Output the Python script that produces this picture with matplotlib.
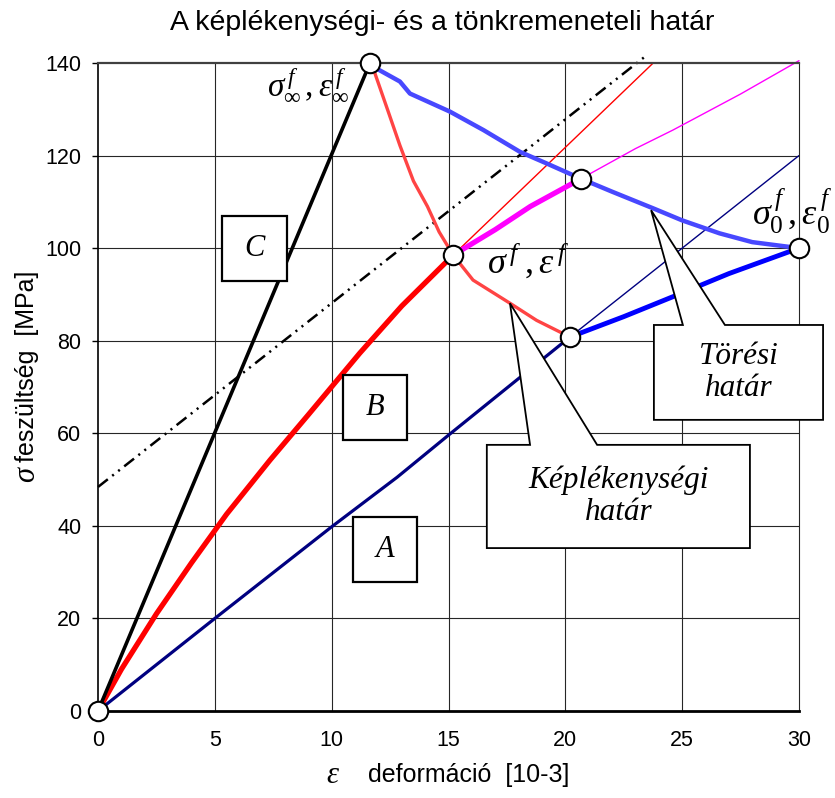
import numpy as np
import matplotlib
matplotlib.use("Agg")
import matplotlib.pyplot as plt
from matplotlib.patches import Polygon, Rectangle

plt.rcParams['font.family'] = ['Liberation Sans', 'DejaVu Sans']
plt.rcParams['mathtext.fontset'] = 'custom'
plt.rcParams['mathtext.rm'] = 'Liberation Serif'
plt.rcParams['mathtext.it'] = 'Liberation Serif:italic'
plt.rcParams['lines.scale_dashes'] = False

# C: rigid line
c_x = [0, 11.64]
c_y = [0, 140]
# B: main curve up to the yield point
b_x = [0, 1, 2.5, 4, 5.5, 7.36, 9, 11.2, 13, 15.2]
b_y = [0, 9, 21, 32, 42.5, 54.2, 64, 77.3, 87.5, 98.5]
# A: soft line
a_x = [0, 5, 10, 12.8, 15, 20.2]
a_y = [0, 20, 39.8, 50.5, 59.6, 80.8]
a_ext_x = [20.2, 30]
a_ext_y = [80.8, 120]
# A beyond yield
a_post_x = [20.2, 22.5, 24.6, 27, 30]
a_post_y = [80.8, 85.2, 89.5, 94.5, 100]
# B beyond yield
b_post_x = [15.2, 17, 18.5, 20.67]
b_post_y = [98.5, 104, 109, 115]
b_post_ext_x = [20.67, 23, 24.6, 27.5, 30]
b_post_ext_y = [115, 121.5, 125.5, 133.3, 140.5]
b_ext_x = [15.2, 23.74]
b_ext_y = [98.5, 139.9]
# dash-dot reference line
dd_x = [0, 23.54]
dd_y = [48.4, 141.9]
# fracture limit
tor_x = [11.64, 11.92, 12.92, 13.35, 15.06, 16.5, 18.06, 19.2, 20.67, 22, 23.76, 25, 26.6, 28, 30]
tor_y = [140, 138.8, 136, 133.4, 129.5, 125.5, 120.8, 118.3, 115, 112.2, 108.6, 106, 103.2, 101.3, 100]
# yield limit
kep_x = [11.64, 11.78, 12.4, 12.92, 13.5, 14.1, 14.6, 15.2, 16.05, 17.63, 18.77, 20.2]
kep_y = [140, 138.8, 129.8, 122.2, 114.5, 109, 103.5, 98.5, 93.1, 88.1, 84.4, 80.8]
# marked points
pt_x = [0, 11.64, 15.2, 20.2, 20.67, 30]
pt_y = [0, 140, 98.5, 80.8, 115, 100]

x_ticks = [0, 5, 10, 15, 20, 25, 30]
y_ticks = [0, 20, 40, 60, 80, 100, 120, 140]

fig = plt.figure(figsize=(8.35, 7.98), dpi=100)
ax = fig.add_axes([98/835, 87/798, 701/835, 648/798])
ax.set_xlim(0, 30)
ax.set_ylim(0, 140)

for gx in x_ticks[1:-1]:
    ax.axvline(gx, color='0.15', lw=0.8, zorder=0)
for gy in y_ticks[1:-1]:
    ax.axhline(gy, color='0.15', lw=0.8, zorder=0)

ax.spines['left'].set_color('black')
ax.spines['left'].set_linewidth(1.2)
ax.spines['bottom'].set_color('black')
ax.spines['bottom'].set_linewidth(2)
ax.spines['top'].set_color('#404040')
ax.spines['top'].set_linewidth(1.6)
ax.spines['right'].set_color('0.15')
ax.spines['right'].set_linewidth(0.8)

ax.set_xticks(x_ticks)
ax.set_yticks(y_ticks)
ax.tick_params(axis='x', length=0, pad=14, labelsize=15.5)
ax.tick_params(axis='y', length=4, width=1, pad=8, labelsize=15.5, direction='out')

kw = dict(clip_on=False, solid_capstyle='round')
ax.plot(dd_x, dd_y, color='black', lw=1.8, dashes=[9, 4, 1.5, 4, 1.5, 4], clip_on=False, zorder=2)
ax.plot(a_ext_x, a_ext_y, color='#000080', lw=1.0, zorder=2, **kw)
ax.plot(b_ext_x, b_ext_y, color='#ff0000', lw=1.0, zorder=2, **kw)
ax.plot(b_post_ext_x, b_post_ext_y, color='#ff00ff', lw=1.0, zorder=2, **kw)
ax.plot(a_x, a_y, color='#000080', lw=2.3, zorder=3, **kw)
ax.plot(a_post_x, a_post_y, color='#0000ff', lw=3.5, zorder=3, **kw)
ax.plot(b_x, b_y, color='#ff0000', lw=3.8, zorder=3, **kw)
ax.plot(b_post_x, b_post_y, color='#ff00ff', lw=3.8, zorder=3, **kw)
ax.plot(c_x, c_y, color='black', lw=2.6, zorder=3, **kw)
ax.plot(tor_x, tor_y, color='#4848ff', lw=3.2, zorder=3, **kw)
ax.plot(kep_x, kep_y, color='#ff4444', lw=2.4, zorder=3, **kw)

ax.plot(pt_x, pt_y, 'o', ms=14, mfc='white', mec='black', mew=1.5, clip_on=False, zorder=6)

serif_it = dict(family='Liberation Serif', style='italic')

# letter boxes
for (x0, x1, y0, y1, lab) in [(5.31, 8.09, 92.9, 106.9, 'C'),
                               (10.48, 13.22, 58.5, 72.6, 'B'),
                               (10.91, 13.65, 27.9, 41.9, 'A')]:
    ax.add_patch(Rectangle((x0, y0), x1 - x0, y1 - y0, fc='white', ec='black', lw=1.6, zorder=5))
    ax.text((x0 + x1) / 2, (y0 + y1) / 2, lab, ha='center', va='center', fontsize=22, zorder=6, **serif_it)

# callouts with pointer tails
def callout(x0, x1, y0, y1, b0, b1, tip, txt):
    verts = [(x0, y0), (x0, y1), (b0, y1), tip, (b1, y1), (x1, y1), (x1, y0)]
    ax.add_patch(Polygon(verts, closed=True, fc='white', ec='black', lw=1.3, zorder=5, clip_on=False))
    ax.text((x0 + x1) / 2, (y0 + y1) / 2, txt, ha='center', va='center', fontsize=22.5,
            linespacing=1.15, zorder=6, clip_on=False, **serif_it)

callout(23.79, 31.03, 62.9, 83.4, 25.03, 26.83, (23.67, 108.2), 'Törési\nhatár')
callout(16.64, 27.9, 35.2, 57.5, 18.49, 21.36, (17.63, 88.1), 'Képlékenységi\nhatár')

# point labels
ax.text(7.25, 133, r'$\sigma^{\,f}_{\infty}\,,\varepsilon^{\,f}_{\infty}$', fontsize=24, zorder=7)
ax.text(16.63, 94.6, r'$\sigma^{\,f}\;,\varepsilon^{\,f}$', fontsize=26, zorder=7)
ax.text(27.97, 105, r'$\sigma^{\,f}_{0}\,,\varepsilon^{\,f}_{0}$', fontsize=26, zorder=7, clip_on=False)

fig.text(442/835, 1 - 30/798, 'A képlékenységi- és a tönkremeneteli határ', ha='center',
         va='baseline', fontsize=20.5)
# axis titles: greek symbol in serif italic, rest in sans
fig.text(333/835, 1 - 775/798, r'$\varepsilon$', ha='center', va='center', fontsize=22)
fig.text(469/835, 1 - 775/798, 'deformáció  [10-3]', ha='center', va='center', fontsize=18)
fig.text(27/835, 1 - 474/798, r'$\sigma$', ha='center', va='center', rotation=90, fontsize=22)
fig.text(27/835, 1 - 366/798, 'feszültség  [MPa]', ha='center', va='center',
         rotation=90, fontsize=18)

fig.savefig('out.png', dpi=100, facecolor='white')
